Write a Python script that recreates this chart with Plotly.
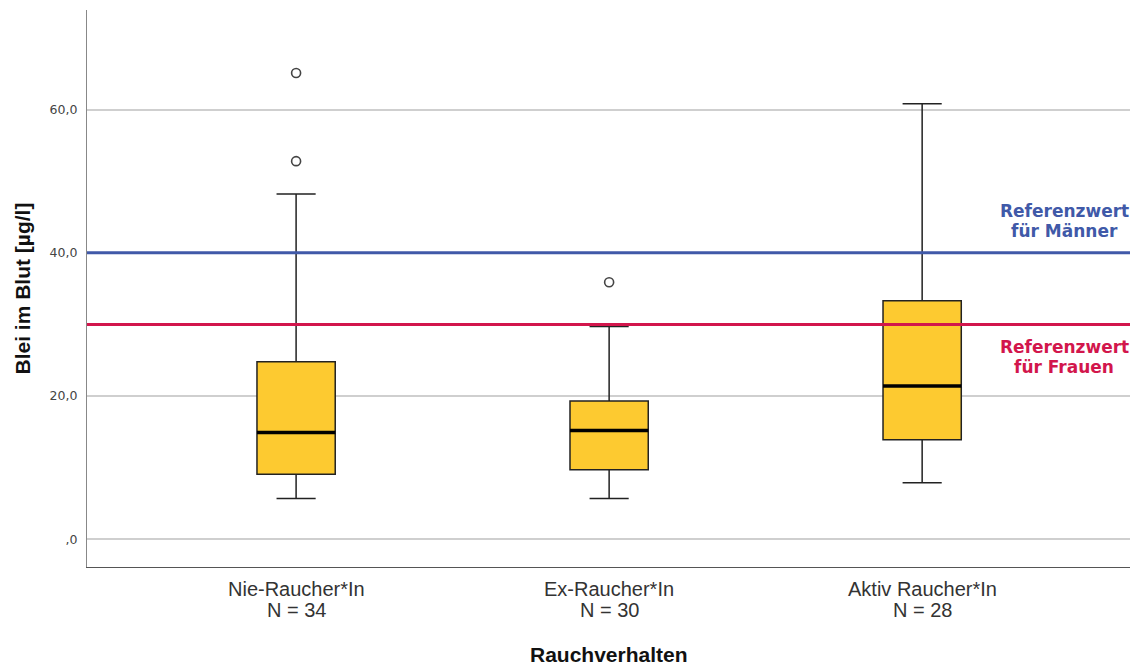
import plotly.graph_objects as go

# Blood lead by smoking status (µg/l)
categories = ["Nie-Raucher*In", "Ex-Raucher*In", "Aktiv Raucher*In"]
counts = [34, 30, 28]
lower_whisker = [5.7, 5.7, 7.9]
q1 = [9.1, 9.7, 13.9]
median = [14.9, 15.2, 21.4]
q3 = [24.8, 19.3, 33.3]
upper_whisker = [48.2, 29.7, 60.8]
outlier_group = [0, 0, 1]
outlier_value = [65.1, 52.8, 35.9]

ref_men = 40.0
ref_women = 30.0
ref_men_label = ["Referenzwert", "für Männer"]
ref_women_label = ["Referenzwert", "für Frauen"]

tick_vals = [0, 20, 40, 60]
tick_text = [",0", "20,0", "40,0", "60,0"]

BOX_W = 0.25
FILL = "#FDCA30"
BLUE = "#4059A8"
RED = "#D2164C"
FONT = "Liberation Sans, Arial, sans-serif"
WIDE = "DejaVu Sans, Verdana, sans-serif"

pos = list(range(len(categories)))

fig = go.Figure()

fig.add_trace(go.Box(
    x=pos,
    q1=q1, median=median, q3=q3,
    lowerfence=lower_whisker, upperfence=upper_whisker,
    width=BOX_W, whiskerwidth=0.5,
    fillcolor=FILL,
    line=dict(color="#222222", width=1.5),
    boxpoints=False, hoverinfo="skip",
    showlegend=False,
))

# thick median bars
for i, m in zip(pos, median):
    fig.add_trace(go.Scatter(
        x=[i - BOX_W / 2, i + BOX_W / 2], y=[m, m],
        mode="lines", line=dict(color="#000000", width=3.5),
        showlegend=False, hoverinfo="skip",
    ))

# outliers
fig.add_trace(go.Scatter(
    x=outlier_group, y=outlier_value, mode="markers",
    marker=dict(symbol="circle-open", size=9, color="#444444",
                line=dict(width=1.6, color="#444444")),
    showlegend=False, hoverinfo="skip",
))

# reference lines drawn across the plot, over the boxes
fig.add_hline(y=ref_men, line=dict(color=BLUE, width=3), layer="above")
fig.add_hline(y=ref_women, line=dict(color=RED, width=3), layer="above")

fig.update_xaxes(
    range=[-0.668, 2.664],
    showticklabels=False,
    showgrid=False, zeroline=False,
    showline=True, linecolor="#555555", linewidth=1.2,
    ticks="",
)

fig.update_yaxes(
    range=[-3.86, 73.9],
    tickmode="array", tickvals=tick_vals, ticktext=tick_text,
    tickfont=dict(family=WIDE, size=12.5, color="#444444"),
    ticklabelstandoff=6,
    showgrid=True, gridcolor="#CFCFCF", gridwidth=1.5,
    zeroline=False,
    showline=True, linecolor="#888888", linewidth=1.2,
    ticks="",
)

# category labels with group sizes
for i, c, n in zip(pos, categories, counts):
    fig.add_annotation(x=i, xref="x", y=0, yref="paper", yanchor="middle",
                       yshift=-22, text=c, showarrow=False,
                       font=dict(family=FONT, size=20, color="#333333"))
    fig.add_annotation(x=i, xref="x", y=0, yref="paper", yanchor="middle",
                       yshift=-43, text=f"N = {n}", showarrow=False,
                       font=dict(family=FONT, size=20, color="#333333"))

# axis titles
fig.add_annotation(x=0.5, xref="paper", y=0, yref="paper", yanchor="middle",
                   yshift=-87, text="<b>Rauchverhalten</b>", showarrow=False,
                   font=dict(family=FONT, size=21, color="#111111"))
fig.add_annotation(x=0, xref="paper", xanchor="center", xshift=-65,
                   y=0.5, yref="paper",
                   text="<b>Blei im Blut [µg/l]</b>", showarrow=False,
                   textangle=-90,
                   font=dict(family=FONT, size=21, color="#111111"))

# reference line labels
for txt, dy in zip(ref_men_label, [-42, -22]):
    fig.add_annotation(x=0.937, xref="paper", xanchor="center",
                       y=ref_men, yref="y", yanchor="middle", yshift=-dy,
                       text=f"<b>{txt}</b>", showarrow=False,
                       font=dict(family=WIDE, size=17, color=BLUE))
for txt, dy in zip(ref_women_label, [23, 43]):
    fig.add_annotation(x=0.937, xref="paper", xanchor="center",
                       y=ref_women, yref="y", yanchor="middle", yshift=-dy,
                       text=f"<b>{txt}</b>", showarrow=False,
                       font=dict(family=WIDE, size=17, color=RED))

fig.update_layout(
    width=1137, height=666,
    margin=dict(l=87, r=7, t=10, b=99),
    plot_bgcolor="white", paper_bgcolor="white",
    showlegend=False,
)

fig.write_html("out.html")
